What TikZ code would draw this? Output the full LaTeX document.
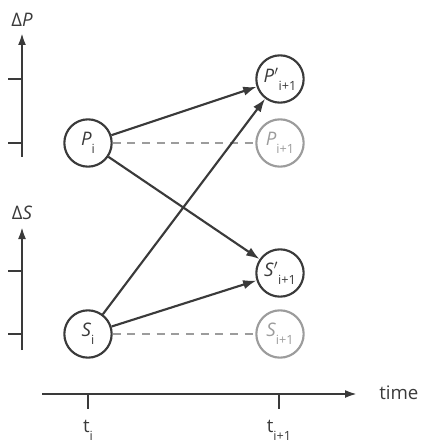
\documentclass[tikz,border=0pt]{standalone}
\usepackage{fontspec}
\setmainfont{Open Sans}
\usetikzlibrary{arrows.meta}

\definecolor{darkline}{HTML}{3A3A3A}
\definecolor{lightline}{HTML}{9C9C9C}
\newcommand{\lowidx}[1]{\raisebox{-0.8ex}{\fontsize{9.5}{10}\selectfont #1}}

\begin{document}
\begin{tikzpicture}[x=0.75pt, y=-0.75pt, font=\fontsize{14}{16}\selectfont,
                    state/.style={circle, draw=darkline, line width=1.6pt, minimum size=35.5pt,
                                  inner sep=0pt, text=darkline},
                    ghost/.style={state, draw=lightline, text=lightline},
                    link/.style={draw=darkline, line width=1.6pt, -{Latex[length=10pt,width=7pt]}},
                    stay/.style={draw=lightline, line width=1.6pt, dash pattern=on 6pt off 5pt},
                    axis/.style={draw=darkline, line width=1.6pt, -{Latex[length=9pt,width=6pt]}},
                    tick/.style={draw=darkline, line width=1.6pt}]
\useasboundingbox (0,0) rectangle (421,445);
% axes
\coordinate (dpbot) at (22,157); \coordinate (dptop) at (22,33);
\coordinate (dsbot) at (22,350); \coordinate (dstop) at (22,227);
\draw[axis] (dpbot) -- (dptop) node[above=1pt, text=darkline] {Δ\textit{P}};
\draw[axis] (dsbot) -- (dstop) node[above=1pt, text=darkline] {Δ\textit{S}};
\foreach \y in {79,143,271,334} \draw[tick] (8,\y) -- (22,\y);
\coordinate (tleft) at (42,394); \coordinate (tright) at (357,394);
\draw[axis] (tleft) -- (tright);
\node[anchor=west, text=darkline, inner sep=0pt] (timelab) at (379,393) {time};
\draw[tick] (88,394) -- (88,409) node[below=4pt, text=darkline] {t\lowidx{i}};
\draw[tick] (279,394) -- (279,409) node[below=4pt, text=darkline] {t\lowidx{i+1}};
% states
\node[state] (pnow)  at (88,143)  {\textit{P}\lowidx{i}};
\node[state] (snow)  at (88,334)  {\textit{S}\lowidx{i}};
\node[state] (pnew)  at (280,79)  {\textit{P}$'$\lowidx{i+1}};
\node[ghost] (pkeep) at (280,143) {\textit{P}\lowidx{i+1}};
\node[state] (snew)  at (280,273) {\textit{S}$'$\lowidx{i+1}};
\node[ghost] (skeep) at (280,334) {\textit{S}\lowidx{i+1}};
% transitions
\draw[stay] (pnow) -- (pkeep);
\draw[stay] (snow) -- (skeep);
\draw[link] (pnow) -- (pnew);
\draw[link] (pnow) -- (snew);
\draw[link] (snow) -- (pnew);
\draw[link] (snow) -- (snew);
\end{tikzpicture}
\end{document}
